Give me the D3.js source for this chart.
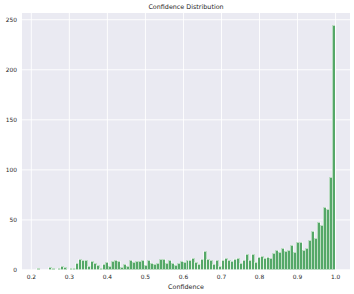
<!DOCTYPE html>
<html>
<head>
<meta charset="utf-8">
<script src="https://cdn.jsdelivr.net/npm/d3@7"></script>
<style>
  html, body { margin: 0; padding: 0; background: #ffffff; }
  svg { display: block; }
  text { font-family: "DejaVu Sans", sans-serif; fill: #262626; }
</style>
</head>
<body>
<svg id="chart" width="354" height="294"></svg>
<script>
// ---- data ----
const title = "Confidence Distribution";
const xLabel = "Confidence";
const binMin = 0.216;   // left edge of first bin
const binMax = 1.0;     // right edge of last bin
const counts = [
  1, 0, 0, 0, 2, 1, 0, 1, 3, 2,
  0, 1, 1, 6, 10, 9, 9, 3, 8, 6,
  4, 1, 5, 7, 3, 8, 9, 8, 2, 5,
  3, 9, 7, 8, 8, 9, 4, 9, 6, 5,
  6, 10, 10, 6, 9, 6, 4, 6, 8, 7,
  9, 9, 11, 7, 5, 10, 18, 10, 9, 5,
  9, 3, 9, 11, 9, 8, 10, 11, 6, 9,
  15, 9, 15, 7, 12, 13, 11, 12, 11, 16,
  19, 17, 21, 18, 19, 24, 17, 27, 27, 19,
  21, 29, 38, 31, 47, 44, 62, 60, 92, 244
];
const xTicks = [0.2, 0.3, 0.4, 0.5, 0.6, 0.7, 0.8, 0.9, 1.0];
const xTickLabels = ["0.2", "0.3", "0.4", "0.5", "0.6", "0.7", "0.8", "0.9", "1.0"];
const yTicks = [0, 50, 100, 150, 200, 250];

// ---- layout ----
const plot = { left: 22, top: 13, right: 350, bottom: 269.5 };
const svg = d3.select("#chart");

const span = binMax - binMin;
const x = d3.scaleLinear()
  .domain([binMin - 0.05 * span, binMax + 0.05 * span])
  .range([plot.left, plot.right]);
const yMax = d3.max(counts) * 1.05;
const y = d3.scaleLinear().domain([0, yMax]).range([plot.bottom, plot.top]);

const binW = span / counts.length;
const bins = counts.map((c, i) => ({ x0: binMin + i * binW, x1: binMin + (i + 1) * binW, c }));

// background
svg.append("rect")
  .attr("x", plot.left).attr("y", plot.top)
  .attr("width", plot.right - plot.left).attr("height", plot.bottom - plot.top)
  .attr("fill", "#eaeaf2");

// grid
const gx = d3.axisBottom(x).tickValues(xTicks).tickSize(-(plot.bottom - plot.top)).tickFormat("");
svg.append("g").attr("transform", `translate(0,${plot.bottom})`).call(gx)
  .call(g => g.select(".domain").remove())
  .call(g => g.selectAll("line").attr("stroke", "#ffffff").attr("stroke-width", 0.9));
const gy = d3.axisLeft(y).tickValues(yTicks).tickSize(-(plot.right - plot.left)).tickFormat("");
svg.append("g").attr("transform", `translate(${plot.left},0)`).call(gy)
  .call(g => g.select(".domain").remove())
  .call(g => g.selectAll("line").attr("stroke", "#ffffff").attr("stroke-width", 0.9));

// bars
svg.append("g").selectAll("rect").data(bins).join("rect")
  .attr("x", d => x(d.x0))
  .attr("width", d => x(d.x1) - x(d.x0))
  .attr("y", d => y(d.c))
  .attr("height", d => y(0) - y(d.c))
  .attr("fill", "#55a868")
  .attr("stroke", "#ffffff")
  .attr("stroke-width", 0.6)
  .attr("shape-rendering", "crispEdges");

// axes labels
const ax = d3.axisBottom(x).tickValues(xTicks).tickSize(0).tickPadding(4)
  .tickFormat((d, i) => xTickLabels[i]);
svg.append("g").attr("transform", `translate(0,${plot.bottom + 1})`).call(ax)
  .call(g => g.select(".domain").remove())
  .call(g => g.selectAll("text").attr("font-size", 5.9).attr("fill", "#262626")
    .style("font-family", "DejaVu Sans"));

const ay = d3.axisLeft(y).tickValues(yTicks).tickSize(0).tickPadding(5);
svg.append("g").attr("transform", `translate(${plot.left},0)`).call(ay)
  .call(g => g.select(".domain").remove())
  .call(g => g.selectAll("text").attr("font-size", 5.9).attr("fill", "#262626")
    .style("font-family", "DejaVu Sans"));

svg.append("text")
  .attr("x", (plot.left + plot.right) / 2).attr("y", 8.5)
  .attr("text-anchor", "middle").attr("font-size", 6.4)
  .text(title);

svg.append("text")
  .attr("x", (plot.left + plot.right) / 2).attr("y", 288.5)
  .attr("text-anchor", "middle").attr("font-size", 6.4)
  .text(xLabel);
</script>
</body>
</html>
